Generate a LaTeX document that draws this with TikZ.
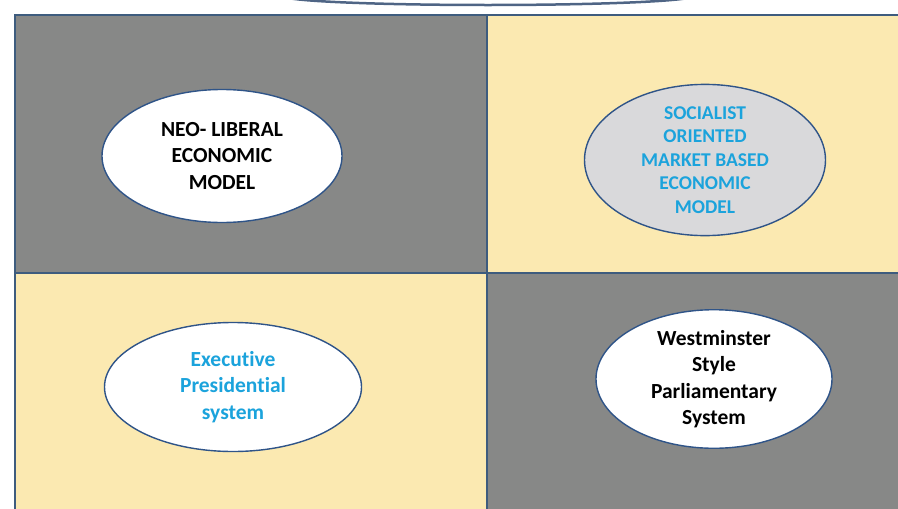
\documentclass[tikz,border=0pt]{standalone}
\usepackage{fontspec}
\setmainfont{Carlito}[Ligatures=NoCommon]
\usetikzlibrary{positioning, shapes.geometric}

\definecolor{cellgray}{HTML}{878887}
\definecolor{cellyellow}{HTML}{FBE9B1}
\definecolor{gridline}{HTML}{3E5C7E}
\definecolor{ovalline}{HTML}{2F5488}
\definecolor{ovalgray}{HTML}{D9D9DB}
\definecolor{textblue}{HTML}{1BA3DC}

\begin{document}
\begin{tikzpicture}[
    x=1pt, y=-1pt,
    font=\bfseries\fontsize{21.5}{26.5}\selectfont,
    % Styles
    cell/.style={draw=gridline, line width=1.4pt},
    oval/.style={ellipse, draw=ovalline, line width=1.4pt, fill=white, inner sep=0pt, align=center},
    bluetext/.style={text=textblue}
]

    \useasboundingbox (0,0) rectangle (898,509);
    \clip (0,0) rectangle (898,509);

    % --- Shape cut off at top ---
    \draw[ovalline!60!gray, line width=2.5pt] (488,-4) ellipse (205 and 9);

    % --- Cells ---
    \fill[cellgray] (15,15) rectangle (487,273);
    \fill[cellyellow] (487,15) rectangle (905,273);
    \fill[cellyellow] (15,273) rectangle (487,515);
    \fill[cellgray] (487,273) rectangle (905,515);
    \draw[cell] (15,515) -- (15,15) -- (905,15);
    \draw[cell] (15,273) -- (905,273);
    \draw[cell] (487,15) -- (487,515);

    % --- Ovals ---
    \node[oval, minimum width=240pt, minimum height=133pt] (neolib) at (222,156)
        {NEO- LIBERAL\\ECONOMIC\\MODEL};
    \node[oval, bluetext, fill=ovalgray, minimum width=241pt, minimum height=135pt,
          font=\bfseries\fontsize{19.5}{23.5}\selectfont] (socialist) at (705,160)
        {SOCIALIST\\ORIENTED\\MARKET BASED\\ECONOMIC\\MODEL};
    \node[oval, bluetext, minimum width=257pt, minimum height=129pt] (exec) at (233,387)
        {Executive\\Presidential\\system};
    \node[oval, minimum width=236pt, minimum height=128pt] (westm) at (714,379)
        {Westminster\\Style\\Parliamentary\\System};

\end{tikzpicture}
\end{document}
